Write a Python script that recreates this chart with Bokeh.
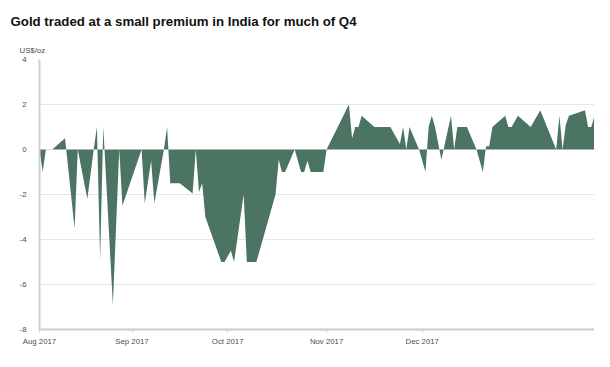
from datetime import datetime
from bokeh.plotting import figure
from bokeh.models import (FixedTicker, DatetimeTickFormatter, Span, Title,
                          ColumnDataSource, Range1d)
from bokeh.embed import file_html
from bokeh.resources import INLINE

TITLE = "Gold traded at a small premium in India for much of Q4"
UNIT = "US$/oz"

dates = [
    "2017-08-03", "2017-08-04", "2017-08-05", "2017-08-07", "2017-08-11", "2017-08-14",
    "2017-08-15", "2017-08-18", "2017-08-20", "2017-08-21", "2017-08-22", "2017-08-23",
    "2017-08-26", "2017-08-28", "2017-08-29",
    "2017-09-04", "2017-09-05", "2017-09-07", "2017-09-08", "2017-09-11", "2017-09-12",
    "2017-09-13", "2017-09-16", "2017-09-20", "2017-09-21", "2017-09-22", "2017-09-23",
    "2017-09-24", "2017-09-29", "2017-09-30",
    "2017-10-02", "2017-10-03", "2017-10-06", "2017-10-07", "2017-10-10", "2017-10-16",
    "2017-10-17", "2017-10-18", "2017-10-19", "2017-10-22", "2017-10-24", "2017-10-25",
    "2017-10-26", "2017-10-27", "2017-10-31",
    "2017-11-01", "2017-11-08", "2017-11-09", "2017-11-10", "2017-11-11", "2017-11-12",
    "2017-11-16", "2017-11-21", "2017-11-24", "2017-11-25", "2017-11-26", "2017-11-27",
    "2017-11-30",
    "2017-12-02", "2017-12-03", "2017-12-04", "2017-12-05", "2017-12-07", "2017-12-10",
    "2017-12-11", "2017-12-12", "2017-12-15", "2017-12-18", "2017-12-20", "2017-12-21",
    "2017-12-22", "2017-12-23", "2017-12-27", "2017-12-28", "2017-12-29", "2017-12-31",
    "2018-01-04", "2018-01-07", "2018-01-12", "2018-01-13", "2018-01-14", "2018-01-15",
    "2018-01-16", "2018-01-21", "2018-01-22", "2018-01-23", "2018-01-24",
]

premium = [
    0, -1.0, 0, 0, 0.5, -3.5, 0, -2.2, 0, 1.0, -4.9, 1.0, -6.9, 0, -2.5,
    0, -2.4, -0.5, -2.4, 0, 1.0, -1.5, -1.5, -1.95, 0, -1.9, -1.5, -3.0, -5.0, -5.0,
    -4.5, -5.0, -2.0, -5.0, -5.0, -2.0, -0.45, -1.0, -1.0, 0, -1.0, -1.0, -0.5, -1.0, -1.0,
    0, 2.0, 0.5, 1.0, 1.0, 1.5, 1.0, 1.0, 0.25, 1.0, 0, 1.0, 0,
    -1.0, 1.0, 1.5, 1.0, -0.45, 1.5, 0, 1.0, 1.0, 0, -1.0, 0.15, 0.15, 1.0, 1.5, 1.0, 1.0, 1.5,
    1.0, 1.75, 0, 1.5, 0, 1.1, 1.5, 1.75, 1.0, 1.0, 1.5,
]

# month ticks; the first one is shown at the start of the plotted range
x_tick_dates = ["2017-08-03", "2017-09-01", "2017-10-01", "2017-11-01", "2017-12-01"]
y_ticks = [-8, -6, -4, -2, 0, 2, 4]

GREEN = "#4b7562"
LABEL_COLOR = "#4d4d4d"
FONT = "Liberation Sans"


def to_dt(s):
    return datetime.strptime(s, "%Y-%m-%d")


def to_ms(s):
    return (to_dt(s) - datetime(1970, 1, 1)).total_seconds() * 1000.0


xs = [to_dt(d) for d in dates]
src = ColumnDataSource(dict(x=xs, y=premium))

p = figure(width=594, height=351, x_axis_type="datetime", output_backend="svg",
           toolbar_location=None, title=None,
           x_range=Range1d(xs[0], xs[-1]), y_range=Range1d(-8, 4),
           min_border_left=39, min_border_right=0, min_border_top=57,
           min_border_bottom=22)

p.varea(x="x", y1=0, y2="y", source=src, fill_color=GREEN, fill_alpha=1.0)

p.outline_line_color = None
p.background_fill_color = "white"
p.border_fill_color = "white"

# titles (first added sits nearest the plot)
p.add_layout(Title(text=UNIT, align="left", offset=-20, text_font=FONT,
                   text_font_size="7.8px", text_font_style="normal",
                   text_color=LABEL_COLOR, standoff=9), "above")
p.add_layout(Title(text=TITLE, align="left", offset=-29, text_font=FONT,
                   text_font_size="13.25px", text_font_style="bold",
                   text_color="#111111", standoff=22), "above")

# grid
p.xgrid.visible = False
p.ygrid.ticker = FixedTicker(ticks=y_ticks)
p.ygrid.grid_line_color = "#cccccc"
p.ygrid.grid_line_dash = "1 1"
p.ygrid.grid_line_width = 1

# zero line on top of fill
p.add_layout(Span(location=0, dimension="width", line_color="#cccccc",
                  line_alpha=0.7, line_width=1, line_dash="1 1"))

# x axis
xa = p.xaxis[0]
xa.ticker = FixedTicker(ticks=[to_ms(d) for d in x_tick_dates])
xa.formatter = DatetimeTickFormatter(days="%b %Y", months="%b %Y", years="%b %Y")
xa.axis_line_color = "#cccccc"
xa.axis_line_width = 2
xa.major_tick_line_color = "#cccccc"
xa.major_tick_out = 3
xa.major_tick_in = 0
xa.minor_tick_out = 0
xa.minor_tick_in = 0
xa.major_label_standoff = 4
xa.major_label_text_font = FONT
xa.major_label_text_font_size = "7.8px"
xa.major_label_text_color = LABEL_COLOR

# y axis
ya = p.yaxis[0]
ya.ticker = FixedTicker(ticks=y_ticks)
ya.major_label_overrides = {t: str(t) for t in y_ticks}
ya.axis_line_color = "#d0d0d0"
ya.axis_line_width = 2
ya.major_tick_out = 0
ya.major_tick_in = 0
ya.minor_tick_out = 0
ya.minor_tick_in = 0
ya.major_label_standoff = 13
ya.major_label_text_font = FONT
ya.major_label_text_font_size = "7.8px"
ya.major_label_text_color = LABEL_COLOR

open("out.html", "w").write(file_html(p, INLINE))
